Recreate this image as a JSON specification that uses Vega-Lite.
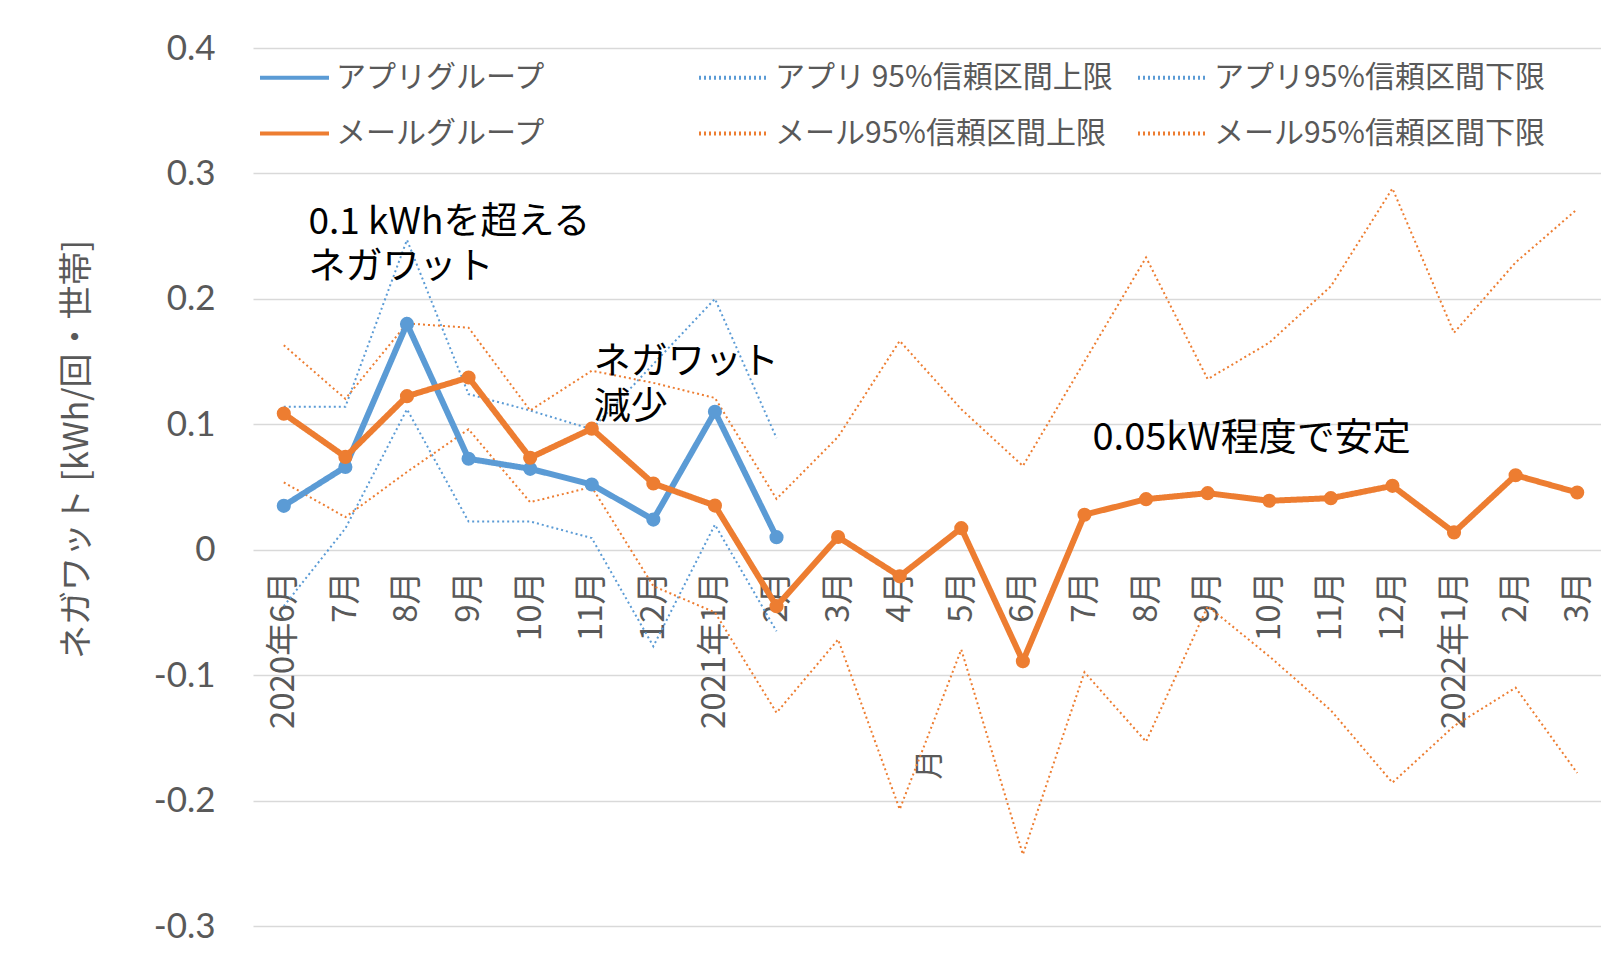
{
  "$schema": "https://vega.github.io/schema/vega-lite/v6.json",
  "autosize": {"type": "none"},
  "width": 1348,
  "height": 878,
  "padding": {"left": 253, "top": 48, "right": 0, "bottom": 32},
  "background": "white",
  "config": {"view": {"stroke": null}, "font": "Noto Sans CJK JP"},
  "data": {"values": [
    {"ym": "2020-06", "series": "アプリグループ", "kind": "group", "v": 0.035},
    {"ym": "2020-07", "series": "アプリグループ", "kind": "group", "v": 0.066},
    {"ym": "2020-08", "series": "アプリグループ", "kind": "group", "v": 0.180},
    {"ym": "2020-09", "series": "アプリグループ", "kind": "group", "v": 0.0725},
    {"ym": "2020-10", "series": "アプリグループ", "kind": "group", "v": 0.0645},
    {"ym": "2020-11", "series": "アプリグループ", "kind": "group", "v": 0.052},
    {"ym": "2020-12", "series": "アプリグループ", "kind": "group", "v": 0.024},
    {"ym": "2021-01", "series": "アプリグループ", "kind": "group", "v": 0.110},
    {"ym": "2021-02", "series": "アプリグループ", "kind": "group", "v": 0.010},

    {"ym": "2020-06", "series": "アプリ 95%信頼区間上限", "kind": "ci", "v": 0.114},
    {"ym": "2020-07", "series": "アプリ 95%信頼区間上限", "kind": "ci", "v": 0.114},
    {"ym": "2020-08", "series": "アプリ 95%信頼区間上限", "kind": "ci", "v": 0.247},
    {"ym": "2020-09", "series": "アプリ 95%信頼区間上限", "kind": "ci", "v": 0.124},
    {"ym": "2020-10", "series": "アプリ 95%信頼区間上限", "kind": "ci", "v": 0.111},
    {"ym": "2020-11", "series": "アプリ 95%信頼区間上限", "kind": "ci", "v": 0.096},
    {"ym": "2020-12", "series": "アプリ 95%信頼区間上限", "kind": "ci", "v": 0.148},
    {"ym": "2021-01", "series": "アプリ 95%信頼区間上限", "kind": "ci", "v": 0.200},
    {"ym": "2021-02", "series": "アプリ 95%信頼区間上限", "kind": "ci", "v": 0.089},

    {"ym": "2020-06", "series": "アプリ95%信頼区間下限", "kind": "ci", "v": -0.045},
    {"ym": "2020-07", "series": "アプリ95%信頼区間下限", "kind": "ci", "v": 0.017},
    {"ym": "2020-08", "series": "アプリ95%信頼区間下限", "kind": "ci", "v": 0.112},
    {"ym": "2020-09", "series": "アプリ95%信頼区間下限", "kind": "ci", "v": 0.0225},
    {"ym": "2020-10", "series": "アプリ95%信頼区間下限", "kind": "ci", "v": 0.0225},
    {"ym": "2020-11", "series": "アプリ95%信頼区間下限", "kind": "ci", "v": 0.0093},
    {"ym": "2020-12", "series": "アプリ95%信頼区間下限", "kind": "ci", "v": -0.077},
    {"ym": "2021-01", "series": "アプリ95%信頼区間下限", "kind": "ci", "v": 0.020},
    {"ym": "2021-02", "series": "アプリ95%信頼区間下限", "kind": "ci", "v": -0.065},

    {"ym": "2020-06", "series": "メールグループ", "kind": "group", "v": 0.1085},
    {"ym": "2020-07", "series": "メールグループ", "kind": "group", "v": 0.074},
    {"ym": "2020-08", "series": "メールグループ", "kind": "group", "v": 0.1224},
    {"ym": "2020-09", "series": "メールグループ", "kind": "group", "v": 0.1373},
    {"ym": "2020-10", "series": "メールグループ", "kind": "group", "v": 0.0733},
    {"ym": "2020-11", "series": "メールグループ", "kind": "group", "v": 0.0965},
    {"ym": "2020-12", "series": "メールグループ", "kind": "group", "v": 0.0528},
    {"ym": "2021-01", "series": "メールグループ", "kind": "group", "v": 0.0352},
    {"ym": "2021-02", "series": "メールグループ", "kind": "group", "v": -0.045},
    {"ym": "2021-03", "series": "メールグループ", "kind": "group", "v": 0.0101},
    {"ym": "2021-04", "series": "メールグループ", "kind": "group", "v": -0.0212},
    {"ym": "2021-05", "series": "メールグループ", "kind": "group", "v": 0.0172},
    {"ym": "2021-06", "series": "メールグループ", "kind": "group", "v": -0.0889},
    {"ym": "2021-07", "series": "メールグループ", "kind": "group", "v": 0.0279},
    {"ym": "2021-08", "series": "メールグループ", "kind": "group", "v": 0.0403},
    {"ym": "2021-09", "series": "メールグループ", "kind": "group", "v": 0.0451},
    {"ym": "2021-10", "series": "メールグループ", "kind": "group", "v": 0.039},
    {"ym": "2021-11", "series": "メールグループ", "kind": "group", "v": 0.0411},
    {"ym": "2021-12", "series": "メールグループ", "kind": "group", "v": 0.0509},
    {"ym": "2022-01", "series": "メールグループ", "kind": "group", "v": 0.0138},
    {"ym": "2022-02", "series": "メールグループ", "kind": "group", "v": 0.0594},
    {"ym": "2022-03", "series": "メールグループ", "kind": "group", "v": 0.0456},

    {"ym": "2020-06", "series": "メール95%信頼区間上限", "kind": "ci", "v": 0.163},
    {"ym": "2020-07", "series": "メール95%信頼区間上限", "kind": "ci", "v": 0.1203},
    {"ym": "2020-08", "series": "メール95%信頼区間上限", "kind": "ci", "v": 0.1804},
    {"ym": "2020-09", "series": "メール95%信頼区間上限", "kind": "ci", "v": 0.177},
    {"ym": "2020-10", "series": "メール95%信頼区間上限", "kind": "ci", "v": 0.111},
    {"ym": "2020-11", "series": "メール95%信頼区間上限", "kind": "ci", "v": 0.1427},
    {"ym": "2020-12", "series": "メール95%信頼区間上限", "kind": "ci", "v": 0.133},
    {"ym": "2021-01", "series": "メール95%信頼区間上限", "kind": "ci", "v": 0.121},
    {"ym": "2021-02", "series": "メール95%信頼区間上限", "kind": "ci", "v": 0.0405},
    {"ym": "2021-03", "series": "メール95%信頼区間上限", "kind": "ci", "v": 0.090},
    {"ym": "2021-04", "series": "メール95%信頼区間上限", "kind": "ci", "v": 0.1665},
    {"ym": "2021-05", "series": "メール95%信頼区間上限", "kind": "ci", "v": 0.112},
    {"ym": "2021-06", "series": "メール95%信頼区間上限", "kind": "ci", "v": 0.0668},
    {"ym": "2021-07", "series": "メール95%信頼区間上限", "kind": "ci", "v": 0.150},
    {"ym": "2021-08", "series": "メール95%信頼区間上限", "kind": "ci", "v": 0.233},
    {"ym": "2021-09", "series": "メール95%信頼区間上限", "kind": "ci", "v": 0.136},
    {"ym": "2021-10", "series": "メール95%信頼区間上限", "kind": "ci", "v": 0.165},
    {"ym": "2021-11", "series": "メール95%信頼区間上限", "kind": "ci", "v": 0.210},
    {"ym": "2021-12", "series": "メール95%信頼区間上限", "kind": "ci", "v": 0.288},
    {"ym": "2022-01", "series": "メール95%信頼区間上限", "kind": "ci", "v": 0.173},
    {"ym": "2022-02", "series": "メール95%信頼区間上限", "kind": "ci", "v": 0.229},
    {"ym": "2022-03", "series": "メール95%信頼区間上限", "kind": "ci", "v": 0.2715},

    {"ym": "2020-06", "series": "メール95%信頼区間下限", "kind": "ci", "v": 0.0537},
    {"ym": "2020-07", "series": "メール95%信頼区間下限", "kind": "ci", "v": 0.026},
    {"ym": "2020-08", "series": "メール95%信頼区間下限", "kind": "ci", "v": 0.062},
    {"ym": "2020-09", "series": "メール95%信頼区間下限", "kind": "ci", "v": 0.096},
    {"ym": "2020-10", "series": "メール95%信頼区間下限", "kind": "ci", "v": 0.0379},
    {"ym": "2020-11", "series": "メール95%信頼区間下限", "kind": "ci", "v": 0.050},
    {"ym": "2020-12", "series": "メール95%信頼区間下限", "kind": "ci", "v": -0.029},
    {"ym": "2021-01", "series": "メール95%信頼区間下限", "kind": "ci", "v": -0.050},
    {"ym": "2021-02", "series": "メール95%信頼区間下限", "kind": "ci", "v": -0.130},
    {"ym": "2021-03", "series": "メール95%信頼区間下限", "kind": "ci", "v": -0.0716},
    {"ym": "2021-04", "series": "メール95%信頼区間下限", "kind": "ci", "v": -0.207},
    {"ym": "2021-05", "series": "メール95%信頼区間下限", "kind": "ci", "v": -0.0796},
    {"ym": "2021-06", "series": "メール95%信頼区間下限", "kind": "ci", "v": -0.243},
    {"ym": "2021-07", "series": "メール95%信頼区間下限", "kind": "ci", "v": -0.0976},
    {"ym": "2021-08", "series": "メール95%信頼区間下限", "kind": "ci", "v": -0.153},
    {"ym": "2021-09", "series": "メール95%信頼区間下限", "kind": "ci", "v": -0.045},
    {"ym": "2021-10", "series": "メール95%信頼区間下限", "kind": "ci", "v": -0.085},
    {"ym": "2021-11", "series": "メール95%信頼区間下限", "kind": "ci", "v": -0.128},
    {"ym": "2021-12", "series": "メール95%信頼区間下限", "kind": "ci", "v": -0.1857},
    {"ym": "2022-01", "series": "メール95%信頼区間下限", "kind": "ci", "v": -0.1406},
    {"ym": "2022-02", "series": "メール95%信頼区間下限", "kind": "ci", "v": -0.110},
    {"ym": "2022-03", "series": "メール95%信頼区間下限", "kind": "ci", "v": -0.178}
  ]},
  "encoding": {
    "x": {
      "field": "ym", "type": "ordinal",
      "scale": {"type": "point", "padding": 0.5, "range": [0, 1355]},
      "axis": {
        "title": "月", "titleAngle": 270, "titleX": 676, "titleY": 214,
        "titleAlign": "center", "titleBaseline": "middle",
        "titleFontSize": 30, "titleFontWeight": "normal", "titleColor": "#595959", "titleFont": "Noto Sans CJK JP",
        "labelAngle": 270, "labelFontSize": 33, "labelColor": "#595959", "labelFont": "Noto Sans CJK JP",
        "labelPadding": 21, "ticks": false, "domain": false, "grid": false, "offset": -376,
        "labelOverlap": false, "labelBound": false,
        "labelExpr": "((datum.value == '2020-06' || slice(datum.value, 5, 7) == '01') ? slice(datum.value, 0, 4) + '年' : '') + toNumber(slice(datum.value, 5, 7)) + '月'"
      }
    },
    "y": {
      "field": "v", "type": "quantitative",
      "scale": {"domain": [-0.3, 0.4], "nice": false, "zero": false},
      "axis": {
        "title": "ネガワット [kWh/回・世帯]",
        "values": [-0.3, -0.2, -0.1, 0, 0.1, 0.2, 0.3, 0.4],
        "labelExpr": "'' + datum.value",
        "labelFontSize": 35, "labelFont": "Lato", "labelColor": "#595959", "labelPadding": 38,
        "ticks": false, "domain": false, "gridColor": "#D9D9D9", "gridWidth": 1.5,
        "titleFontSize": 34, "titleFontWeight": "normal", "titleColor": "#595959", "titleFont": "Noto Sans CJK JP",
        "titleAngle": 270, "titleX": -176, "titleY": 401, "titleAlign": "center", "titleBaseline": "middle"
      }
    }
  },
  "layer": [
    {
      "transform": [{"filter": "datum.kind == 'ci'"}],
      "mark": {"type": "line", "strokeWidth": 2},
      "encoding": {
        "color": {
          "field": "series", "type": "nominal",
          "scale": {
            "domain": ["アプリグループ", "アプリ 95%信頼区間上限", "アプリ95%信頼区間下限", "メールグループ", "メール95%信頼区間上限", "メール95%信頼区間下限"],
            "range": ["#5B9BD5", "#5B9BD5", "#5B9BD5", "#ED7D31", "#ED7D31", "#ED7D31"]
          },
          "legend": {
            "title": null, "orient": "none", "legendX": 5, "legendY": -7,
            "direction": "horizontal", "columns": 3, "gridAlign": "all",
            "columnPadding": 17, "rowPadding": 4, "padding": 0,
            "symbolType": "stroke", "symbolSize": 4761, "symbolStrokeWidth": 4,
            "labelFontSize": 30, "labelColor": "#595959", "labelFont": "Noto Sans CJK JP",
            "labelOffset": 5, "labelLimit": 600
          }
        },
        "strokeDash": {
          "field": "series", "type": "nominal",
          "scale": {
            "domain": ["アプリグループ", "アプリ 95%信頼区間上限", "アプリ95%信頼区間下限", "メールグループ", "メール95%信頼区間上限", "メール95%信頼区間下限"],
            "range": [[1, 0], [2, 3], [2, 3], [1, 0], [2, 3], [2, 3]]
          },
          "legend": {
            "title": null, "orient": "none", "legendX": 5, "legendY": -7,
            "direction": "horizontal", "columns": 3, "gridAlign": "all",
            "columnPadding": 17, "rowPadding": 4, "padding": 0,
            "symbolType": "stroke", "symbolSize": 4761, "symbolStrokeWidth": 4,
            "labelFontSize": 30, "labelColor": "#595959", "labelFont": "Noto Sans CJK JP",
            "labelOffset": 5, "labelLimit": 600
          }
        }
      }
    },
    {
      "transform": [{"filter": "datum.kind == 'group'"}],
      "mark": {"type": "line", "strokeWidth": 6},
      "encoding": {
        "color": {
          "field": "series", "type": "nominal",
          "scale": {
            "domain": ["アプリグループ", "アプリ 95%信頼区間上限", "アプリ95%信頼区間下限", "メールグループ", "メール95%信頼区間上限", "メール95%信頼区間下限"],
            "range": ["#5B9BD5", "#5B9BD5", "#5B9BD5", "#ED7D31", "#ED7D31", "#ED7D31"]
          }
        },
        "strokeDash": {
          "field": "series", "type": "nominal",
          "scale": {
            "domain": ["アプリグループ", "アプリ 95%信頼区間上限", "アプリ95%信頼区間下限", "メールグループ", "メール95%信頼区間上限", "メール95%信頼区間下限"],
            "range": [[1, 0], [2, 3], [2, 3], [1, 0], [2, 3], [2, 3]]
          }
        }
      }
    },
    {
      "transform": [{"filter": "datum.kind == 'group'"}],
      "mark": {"type": "circle", "size": 200, "opacity": 1},
      "encoding": {
        "color": {
          "field": "series", "type": "nominal",
          "scale": {
            "domain": ["アプリグループ", "アプリ 95%信頼区間上限", "アプリ95%信頼区間下限", "メールグループ", "メール95%信頼区間上限", "メール95%信頼区間下限"],
            "range": ["#5B9BD5", "#5B9BD5", "#5B9BD5", "#ED7D31", "#ED7D31", "#ED7D31"]
          }
        }
      }
    },
    {
      "data": {"values": [{"ym": "2020-07", "v": 0.2604, "label": "0.1 kWhを超える\nネガワット"}]},
      "mark": {"type": "text", "align": "left", "baseline": "middle", "dx": -37, "fontSize": 37, "lineHeight": 45, "lineBreak": "\n", "color": "#000000", "font": "Noto Sans CJK JP"},
      "encoding": {"text": {"field": "label"}}
    },
    {
      "data": {"values": [{"ym": "2020-11", "v": 0.1487, "label": "ネガワット\n減少"}]},
      "mark": {"type": "text", "align": "left", "baseline": "middle", "dx": 2, "fontSize": 37, "lineHeight": 45, "lineBreak": "\n", "color": "#000000", "font": "Noto Sans CJK JP"},
      "encoding": {"text": {"field": "label"}}
    },
    {
      "data": {"values": [{"ym": "2021-07", "v": 0.0885, "label": "0.05kW程度で安定"}]},
      "mark": {"type": "text", "align": "left", "baseline": "middle", "dx": 8, "fontSize": 38, "color": "#000000", "font": "Noto Sans CJK JP"},
      "encoding": {"text": {"field": "label"}}
    }
  ]
}
